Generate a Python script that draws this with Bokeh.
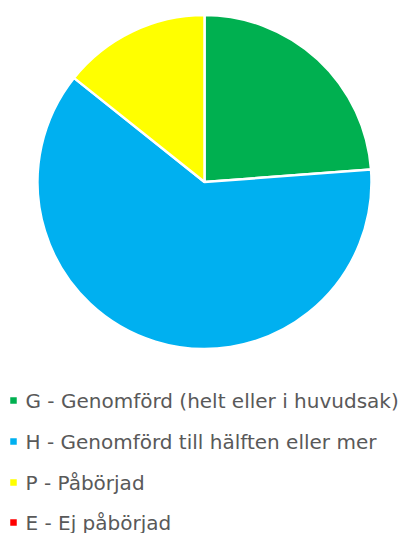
import math
from bokeh.plotting import figure
from bokeh.models import Range1d, ColumnDataSource
from bokeh.core.properties import value
from bokeh.embed import file_html
from bokeh.resources import INLINE

# Data
labels = ["G - Genomförd (helt eller i huvudsak)",
          "H - Genomförd till hälften eller mer",
          "P - Påbörjad",
          "E - Ej påbörjad"]
counts = [5, 13, 3, 0]
colors = ["#00B050", "#00B0F0", "#FFFF00", "#FF0000"]

W, H = 406, 533
total = sum(counts)
starts, ends = [], []
a = math.pi / 2
for c in counts:
    starts.append(a)
    a = a - 2 * math.pi * c / total
    ends.append(a)

p = figure(width=W, height=H, output_backend="svg", toolbar_location=None,
           x_range=Range1d(0, W), y_range=Range1d(0, H),
           min_border=0, outline_line_color=None)
p.axis.visible = False
p.grid.visible = False
p.background_fill_color = "white"

cx, cy, r = 204, H - 181.5, 167
idx = [i for i, c in enumerate(counts) if c > 0]
src = ColumnDataSource(dict(
    x=[cx] * len(idx), y=[cy] * len(idx),
    start=[starts[i] for i in idx], end=[ends[i] for i in idx],
    color=[colors[i] for i in idx]))
p.wedge(x="x", y="y", radius=r, radius_units="screen",
        start_angle="end", end_angle="start", direction="anticlock",
        fill_color="color", line_color="white", line_width=2.5, source=src)

# Legend (manual)
row_y = [H - 400, H - 441, H - 482, H - 522]
lsrc = ColumnDataSource(dict(mx=[13] * 4, tx=[25] * 4, y=row_y,
                             label=labels, color=colors))
p.scatter(x="mx", y="y", marker="square", size=6.5, fill_color="color",
          line_color=None, source=lsrc)
p.text(x="tx", y="y", text="label", text_font=value("DejaVu Sans"),
       text_font_size="20px", text_color="#595959",
       text_baseline="middle", text_align="left", source=lsrc)

open("out.html", "w").write(file_html(p, INLINE))
